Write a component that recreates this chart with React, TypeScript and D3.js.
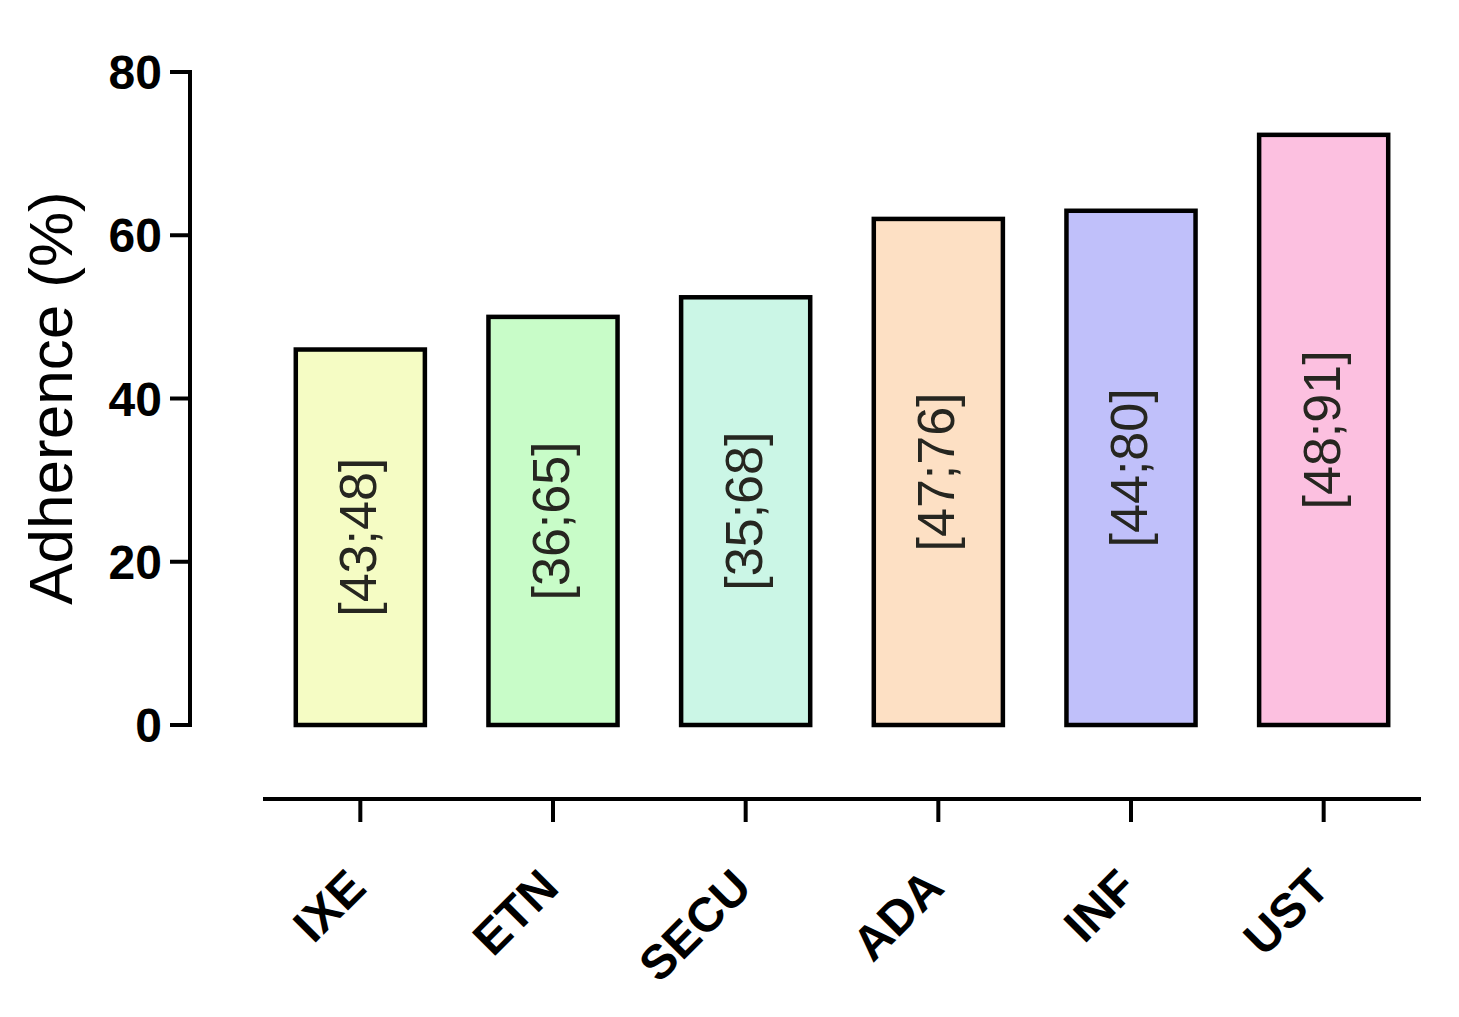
import React, { useEffect, useRef } from "react";
import * as d3 from "d3";

// Adherence per treatment
const categories = ["IXE", "ETN", "SECU", "ADA", "INF", "UST"];
const adherence = [46, 50, 52.4, 62, 63, 72.3];
const intervals = ["[43;48]", "[36;65]", "[35;68]", "[47;76]", "[44;80]", "[48;91]"];
const barColors = ["#f5fcc4", "#c8fcc8", "#cbf6e6", "#fde0c4", "#c0c0fa", "#fcc0e0"];
const yTicks = [0, 20, 40, 60, 80];

const FONT = "'Liberation Sans', Arial, sans-serif";

export default function App() {
  const svgRef = useRef<SVGSVGElement>(null);

  useEffect(() => {
    const width = 1459,
      height = 1017;

    const svg = d3.select(svgRef.current);
    svg.selectAll("*").remove();

    // Scales
    const y = d3.scaleLinear().domain([0, 80]).range([725, 72]);
    const x = d3
      .scaleBand()
      .domain(categories)
      .range([264, 1420])
      .paddingInner(0.33)
      .paddingOuter(0.165);

    // Bars
    const bars = svg
      .append("g")
      .selectAll("g")
      .data(categories)
      .enter()
      .append("g");

    bars
      .append("rect")
      .attr("x", (d) => x(d)!)
      .attr("y", (d, i) => y(adherence[i]))
      .attr("width", x.bandwidth())
      .attr("height", (d, i) => y(0) - y(adherence[i]))
      .attr("fill", (d, i) => barColors[i])
      .attr("stroke", "#000")
      .attr("stroke-width", 4.5);

    // Confidence interval labels, rotated inside each bar
    bars
      .append("text")
      .attr("transform", (d, i) => {
        const cx = x(d)! + x.bandwidth() / 2 + 16;
        const cy = (y(adherence[i]) + y(0)) / 2;
        return `translate(${cx},${cy}) rotate(-90)`;
      })
      .attr("text-anchor", "middle")
      .attr("font-family", FONT)
      .attr("font-size", 52)
      .attr("fill", "#262620")
      .text((d, i) => intervals[i]);

    // Y axis
    const yAxis = svg.append("g");
    yAxis
      .append("line")
      .attr("x1", 190)
      .attr("x2", 190)
      .attr("y1", y(80) - 2)
      .attr("y2", y(0) + 2)
      .attr("stroke", "#000")
      .attr("stroke-width", 4);
    yAxis
      .selectAll("line.tick")
      .data(yTicks)
      .enter()
      .append("line")
      .attr("class", "tick")
      .attr("x1", 170)
      .attr("x2", 190)
      .attr("y1", (d) => y(d))
      .attr("y2", (d) => y(d))
      .attr("stroke", "#000")
      .attr("stroke-width", 4);
    yAxis
      .selectAll("text")
      .data(yTicks)
      .enter()
      .append("text")
      .attr("x", 162)
      .attr("y", (d) => y(d) + 17)
      .attr("text-anchor", "end")
      .attr("font-family", FONT)
      .attr("font-weight", "bold")
      .attr("font-size", 48)
      .text((d) => d);

    // Y axis title
    svg
      .append("text")
      .attr("transform", "translate(72,398) rotate(-90)")
      .attr("text-anchor", "middle")
      .attr("font-family", FONT)
      .attr("font-size", 62)
      .text("Adherence (%)");

    // X axis, detached below the bars
    const axisY = 799;
    const xAxis = svg.append("g");
    xAxis
      .append("line")
      .attr("x1", 263)
      .attr("x2", 1421)
      .attr("y1", axisY)
      .attr("y2", axisY)
      .attr("stroke", "#000")
      .attr("stroke-width", 4);
    xAxis
      .selectAll("line.tick")
      .data(categories)
      .enter()
      .append("line")
      .attr("class", "tick")
      .attr("x1", (d) => x(d)! + x.bandwidth() / 2)
      .attr("x2", (d) => x(d)! + x.bandwidth() / 2)
      .attr("y1", axisY)
      .attr("y2", axisY + 23)
      .attr("stroke", "#000")
      .attr("stroke-width", 4);
    xAxis
      .selectAll("text")
      .data(categories)
      .enter()
      .append("text")
      .attr(
        "transform",
        (d) => `translate(${x(d)! + x.bandwidth() / 2 + 8},890) rotate(-45)`
      )
      .attr("text-anchor", "end")
      .attr("font-family", FONT)
      .attr("font-weight", "bold")
      .attr("font-size", 48)
      .text((d) => d);

    svg.attr("width", width).attr("height", height);
  }, []);

  return (
    <div style={{ position: "absolute", left: 0, top: 0, background: "#fff" }}>
      <svg ref={svgRef} width={1459} height={1017} style={{ display: "block" }} />
    </div>
  );
}
